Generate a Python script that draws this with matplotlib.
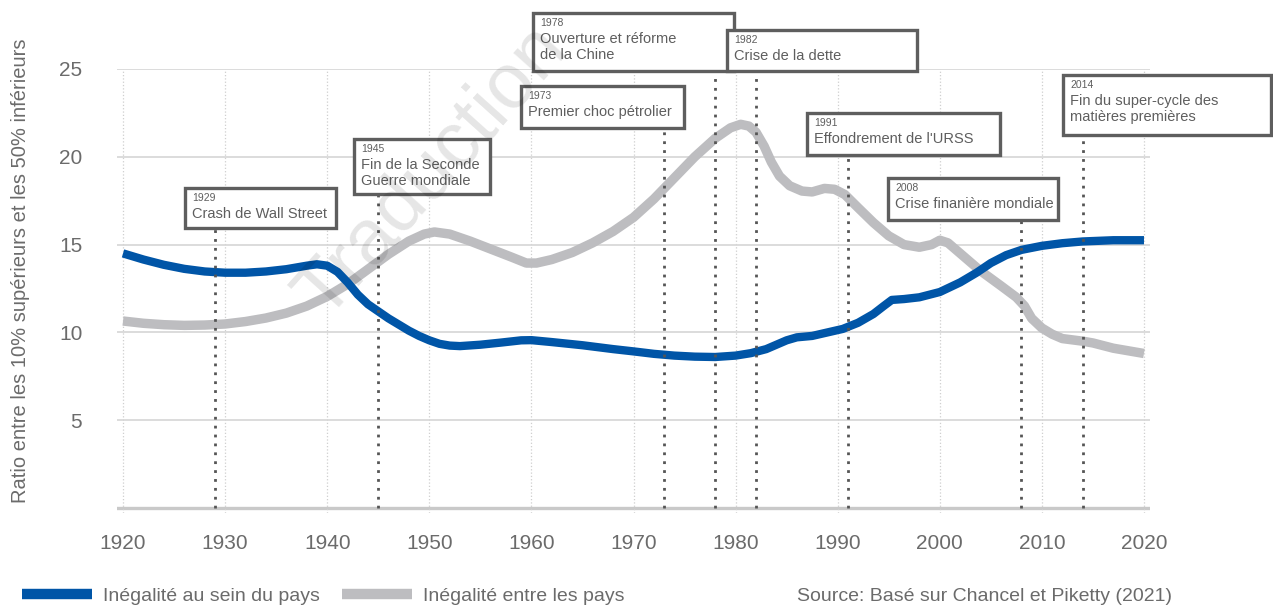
import numpy as np
import matplotlib.pyplot as plt
from matplotlib.lines import Line2D
from matplotlib.patches import Rectangle

plt.rcParams['font.family'] = ['Liberation Sans', 'DejaVu Sans']

# inequality within countries (top 10% / bottom 50%)
years_within = [1920, 1922, 1924, 1926, 1928, 1930, 1932, 1934, 1936, 1938, 1939,
                1940, 1941, 1942, 1943, 1944, 1945, 1946, 1947, 1948, 1949, 1950,
                1951, 1952, 1953, 1955, 1957, 1959, 1960, 1962, 1965, 1968, 1970,
                1972, 1974, 1976, 1978, 1980, 1981.5, 1983, 1984, 1985, 1986,
                1987.5, 1989, 1990.5, 1992, 1993.5, 1994.5, 1995.3, 1996.5, 1998,
                2000, 2002, 2003.6, 2005, 2006.5, 2008, 2010, 2012, 2014, 2017, 2020]
within = [14.5, 14.15, 13.85, 13.62, 13.47, 13.4, 13.4, 13.47, 13.6, 13.8, 13.88,
          13.8, 13.45, 12.85, 12.15, 11.6, 11.2, 10.8, 10.45, 10.1, 9.8, 9.55,
          9.35, 9.25, 9.22, 9.3, 9.42, 9.55, 9.56, 9.45, 9.27, 9.05, 8.92,
          8.78, 8.68, 8.62, 8.6, 8.68, 8.82, 9.05, 9.3, 9.55, 9.72,
          9.8, 10.0, 10.2, 10.55, 11.05, 11.5, 11.85, 11.9, 12.0,
          12.3, 12.85, 13.4, 13.95, 14.4, 14.7, 14.93, 15.08, 15.18, 15.25, 15.25]

# inequality between countries
years_between = [1920, 1922, 1924, 1926, 1928, 1930, 1932, 1934, 1936, 1938, 1940,
                 1942, 1944, 1946, 1948, 1949.5, 1950.5, 1952, 1954, 1956, 1958,
                 1959.5, 1960.5, 1962, 1964, 1966, 1968, 1970, 1972, 1974, 1976,
                 1978, 1979.5, 1980.5, 1981.3, 1982, 1982.8, 1983.5, 1984.3, 1985.3,
                 1986.5, 1987.5, 1988.7, 1989.7, 1990.7, 1992, 1993.5, 1995, 1996.5,
                 1998, 1999.2, 2000, 2000.8, 2002, 2004, 2006, 2007.5, 2008.3, 2009,
                 2010, 2011, 2012, 2014, 2015, 2017, 2020]
between = [10.65, 10.52, 10.44, 10.4, 10.42, 10.48, 10.62, 10.82, 11.1, 11.5, 12.05,
           12.75, 13.6, 14.45, 15.2, 15.6, 15.72, 15.6, 15.2, 14.75, 14.3,
           13.95, 13.95, 14.15, 14.55, 15.1, 15.75, 16.55, 17.6, 18.8, 20.0,
           21.05, 21.65, 21.85, 21.75, 21.4, 20.6, 19.7, 18.9, 18.35,
           18.05, 18.0, 18.2, 18.15, 17.85, 17.1, 16.25, 15.5, 15.0,
           14.85, 15.0, 15.25, 15.1, 14.5, 13.5, 12.65, 12.0, 11.5, 10.8,
           10.25, 9.9, 9.65, 9.5, 9.4, 9.1, 8.8]

event_years = [1929, 1945, 1973, 1978, 1982, 1991, 2008, 2014]
event_labels = ['Crash de Wall Street', 'Fin de la Seconde\nGuerre mondiale',
                'Premier choc pétrolier', 'Ouverture et réforme\nde la Chine',
                'Crise de la dette', "Effondrement de l'URSS",
                'Crise finanière mondiale', 'Fin du super-cycle des\nmatières premières']
# box layout in pixels from top-left: left, top, right, bottom
event_boxes = [(185, 188, 336, 228), (354, 139, 490, 194), (521, 86, 684, 128),
               (533, 13, 734, 71), (727, 30, 917, 71), (807, 113, 1000, 155),
               (888, 178, 1058, 220), (1063, 75, 1271, 135)]

W, H = 1273, 607
blue = '#0055a7'
grey = '#bdbdc0'
txt = '#6b6b6b'
box_c = '#5e5e5e'

fig = plt.figure(figsize=(W / 100, H / 100), dpi=100)
ax = fig.add_axes([117 / W, (H - 513.3) / H, (1150 - 117) / W, (513.3 - 69) / H])
ax.set_xlim(1919.41, 2020.59)
ax.set_ylim(-0.3, 25)

for s in ax.spines.values():
    s.set_visible(False)
ax.set_yticks([5, 10, 15, 20, 25])
ax.set_xticks(np.arange(1920, 2021, 10))
ax.tick_params(length=0, labelsize=15, labelcolor=txt)
ax.tick_params(axis='y', pad=25)
ax.tick_params(axis='x', pad=15)
ax.grid(axis='y', color='#d6d6d6', lw=1.2)
ax.grid(axis='x', color='#cfcfcf', lw=0.9, ls=':')
ax.axhline(0, color='#c9c9c9', lw=2.4, zorder=1)
ax.set_ylabel('Ratio entre les 10% supérieurs et les 50% inférieurs',
              fontsize=14.5, color=txt)
ax.yaxis.set_label_coords(-0.084, 0.545)

ax.plot(years_between, between, color=grey, lw=6.8, solid_joinstyle='round',
        solid_capstyle='butt', zorder=3, clip_on=False)
ax.plot(years_within, within, color=blue, lw=6.0, solid_joinstyle='round',
        solid_capstyle='butt', zorder=4, clip_on=False)

# overlay in pixel coordinates for the event boxes
ov = fig.add_axes([0, 0, 1, 1], zorder=5)
ov.set_xlim(0, W)
ov.set_ylim(H, 0)
ov.axis('off')
ov.patch.set_alpha(0)

inv = ax.transData.inverted()
for yr, lab, (l, t, r, b) in zip(event_years, event_labels, event_boxes):
    top_val = inv.transform((0, H - b))[1]
    ax.plot([yr, yr], [0, top_val], color='#555555', lw=2.0,
            ls=(0, (1, 2.2)), zorder=6, clip_on=False)
    ov.add_patch(Rectangle((l, t), r - l, b - t, facecolor='white',
                           edgecolor=box_c, lw=2.4))
    ov.text(l + 7, t + 10, str(yr), fontsize=7.5, color=box_c, va='center')
    ov.text(l + 7, t + 19, lab, fontsize=10.5, color=box_c, va='top',
            linespacing=1.15)

# watermark
ov.text(432, 172, 'Traduction', fontsize=56, color='#000000', alpha=0.1,
        rotation=48, ha='center', va='center', zorder=10)

handles = [Line2D([], [], color=blue, lw=7.5, solid_capstyle='butt'),
           Line2D([], [], color=grey, lw=7.5, solid_capstyle='butt')]
fig.legend(handles, ['Inégalité au sein du pays', 'Inégalité entre les pays'],
           loc='center left', bbox_to_anchor=(0.0112, 0.018), ncol=2, frameon=False,
           fontsize=14, labelcolor=txt, handlelength=3.6, handletextpad=0.55,
           columnspacing=1.15, borderaxespad=0)
fig.text(1172 / W, 0.018, 'Source: Basé sur Chancel et Piketty (2021)',
         fontsize=14, color=txt, ha='right', va='center')

fig.savefig('out.png', dpi=100)
